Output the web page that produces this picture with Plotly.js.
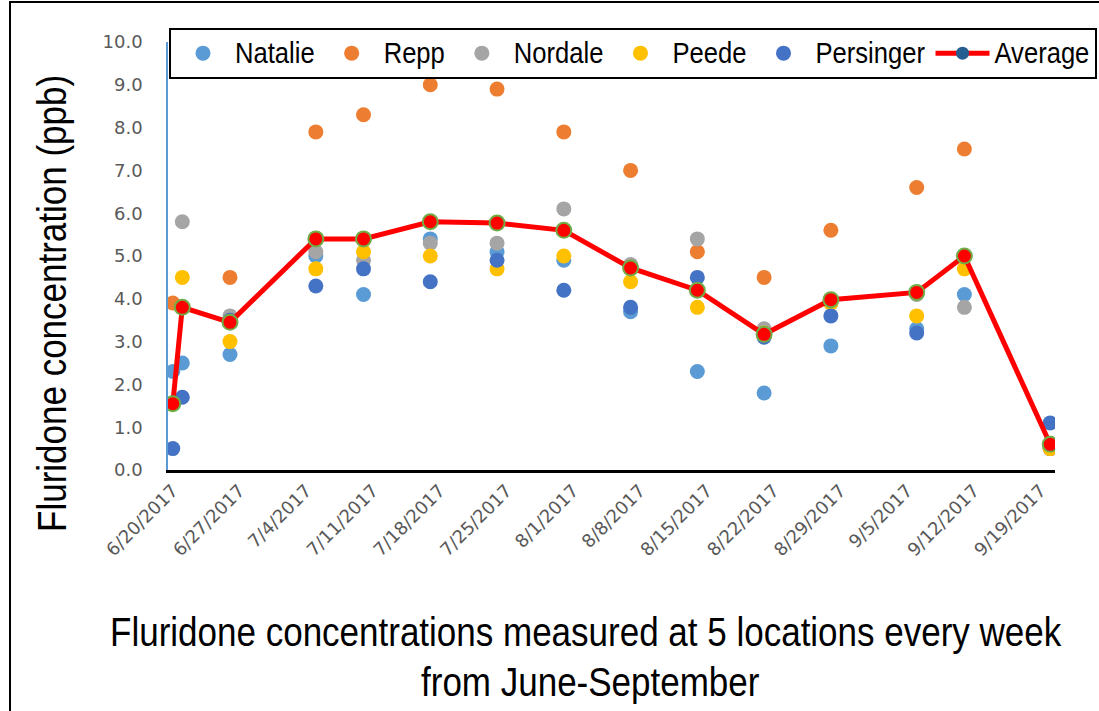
<!DOCTYPE html>
<html>
<head>
<meta charset="utf-8">
<script src="https://cdn.plot.ly/plotly-3.0.1.min.js"></script>
<style>
  html, body { margin: 0; padding: 0; background: #fff; overflow: hidden; }
  #chart { width: 1099px; height: 711px; }
  #frame { position: absolute; left: 9px; top: 1px; width: 1200px; height: 800px; border: 2px solid #000; pointer-events: none; }
</style>
</head>
<body>
<div id="chart"></div>
<div id="frame"></div>
<script>
const dates = ['2017-06-20','2017-06-21','2017-06-26','2017-07-05','2017-07-10','2017-07-17','2017-07-24','2017-07-31','2017-08-07','2017-08-14','2017-08-21','2017-08-28','2017-09-06','2017-09-11','2017-09-20'];
const natalie   = [2.3, 2.5, 2.7, 5.0, 4.1, 5.4, 5.1, 4.9, 3.7, 2.3, 1.8, 2.9, 3.3, 4.1, 0.5];
const repp      = [3.9, null, 4.5, 7.9, 8.3, 9.0, 8.9, 7.9, 7.0, 5.1, 4.5, 5.6, 6.6, 7.5, 0.5];
const nordale   = [null, 5.8, 3.6, 5.1, 4.9, 5.3, 5.3, 6.1, 4.8, 5.4, 3.3, 3.9, 4.1, 3.8, 0.5];
const peede     = [null, 4.5, 3.0, 4.7, 5.1, 5.0, 4.7, 5.0, 4.4, 3.8, 3.2, 3.9, 3.6, 4.7, 0.5];
const persinger = [0.5, 1.7, 3.5, 4.3, 4.7, 4.4, 4.9, 4.2, 3.8, 4.5, 3.1, 3.6, 3.2, 5.0, 1.1];
const average   = [1.55, 3.8, 3.45, 5.4, 5.4, 5.8, 5.77, 5.6, 4.72, 4.2, 3.17, 3.98, 4.15, 5.0, 0.6];

const tickDates  = ['2017-06-20','2017-06-27','2017-07-04','2017-07-11','2017-07-18','2017-07-25','2017-08-01','2017-08-08','2017-08-15','2017-08-22','2017-08-29','2017-09-05','2017-09-12','2017-09-19'];
const tickLabels = ['6/20/2017','6/27/2017','7/4/2017','7/11/2017','7/18/2017','7/25/2017','8/1/2017','8/8/2017','8/15/2017','8/22/2017','8/29/2017','9/5/2017','9/12/2017','9/19/2017'];
const yTicks = [0,1,2,3,4,5,6,7,8,9,10];

const yTitle = 'Fluridone concentration (ppb)';
const xTitle1 = 'Fluridone concentrations measured at 5 locations every week';
const xTitle2 = 'from June-September';

const sans = '"Liberation Sans", Arial, sans-serif';
const tickFont = { family: '"DejaVu Sans", sans-serif', size: 18, color: '#595959' };

function pts(name, y, color) {
  return { type: 'scatter', mode: 'markers', name: name, x: dates, y: y,
    marker: { color: color, size: 15, line: { width: 0 } }, hoverinfo: 'x+y+name' };
}

const traces = [
  pts('Natalie', natalie, '#5B9BD5'),
  pts('Repp', repp, '#ED7D31'),
  pts('Nordale', nordale, '#A5A5A5'),
  pts('Peede', peede, '#FFC000'),
  pts('Persinger', persinger, '#4472C4'),
  { type: 'scatter', mode: 'lines+markers', name: 'Average', x: dates, y: average, showlegend: false,
    line: { color: '#FF0000', width: 5 },
    marker: { color: '#FF0000', size: 15, line: { color: '#70AD47', width: 2 } } },
  { type: 'scatter', mode: 'lines+markers', name: 'Average', x: [null], y: [null], showlegend: true,
    line: { color: '#FF0000', width: 5 },
    marker: { color: '#255E91', size: 13 }, hoverinfo: 'skip' }
];

const ann = (x, y, text, angle) => ({
  xref: 'paper', yref: 'paper', x: (x - 168) / 887, y: (470 - y) / 428,
  xanchor: 'center', yanchor: 'middle', text: text, textangle: angle || 0, showarrow: false,
  font: { family: sans, size: 35, color: '#000' }
});

const layout = {
  width: 1099, height: 711,
  margin: { l: 168, r: 44, t: 42, b: 241 },
  paper_bgcolor: '#fff', plot_bgcolor: '#fff',
  showlegend: true,
  legend: {
    orientation: 'h', x: -0.00001, xanchor: 'left', y: (470 - 28) / 428, yanchor: 'top',
    bordercolor: '#000', borderwidth: 2, bgcolor: '#fff',
    font: { family: sans, size: 25.6, color: '#000' },
    itemsizing: 'trace', itemwidth: 54
  },
  xaxis: {
    type: 'date', range: ['2017-06-19 12:00', '2017-09-20 12:00'],
    tickmode: 'array', tickvals: tickDates, ticktext: tickLabels,
    tickangle: -45, tickfont: tickFont, ticks: '',
    showgrid: false, zeroline: false,
    showline: true, linecolor: '#000', linewidth: 3
  },
  yaxis: {
    range: [0, 10], tickmode: 'array', tickvals: yTicks, tickformat: '.1f',
    tickfont: tickFont, ticks: '', ticklabelstandoff: 20,
    showgrid: false, zeroline: false,
    showline: true, linecolor: '#5B9BD5', linewidth: 1.5
  },
  annotations: [
    ann(53, 304, yTitle, -90),
    ann(586, 633, xTitle1),
    ann(590, 683, xTitle2)
  ]
};

// The reference uses a condensed face: stretch the glyphs vertically about the baseline,
// keeping the measured width.
function stretch(el, k) {
  const y = parseFloat(el.getAttribute('y')) || 0;
  const prev = el.getAttribute('transform') || '';
  el.setAttribute('transform', (prev + ' translate(0,' + y + ') scale(1,' + k + ') translate(0,' + (-y) + ')').trim());
}

function finish() {
  const root = document.getElementById('chart');
  root.querySelectorAll('.annotation-text').forEach(t => stretch(t, 40 / 35));
  root.querySelectorAll('.legend .legendtext').forEach(t => stretch(t, 30 / 25.6));
  const lg = root.querySelector('g.legend');
  if (lg) {
    const m = /translate\(\s*([-\d.]+)[ ,]+([-\d.]+)\s*\)/.exec(lg.getAttribute('transform') || '');
    if (m) lg.setAttribute('transform', 'translate(' + (parseFloat(m[1]) + 1) + ',' + m[2] + ')');
  }
}

Plotly.newPlot('chart', traces, layout, { displayModeBar: false }).then(finish);
</script>
</body>
</html>
